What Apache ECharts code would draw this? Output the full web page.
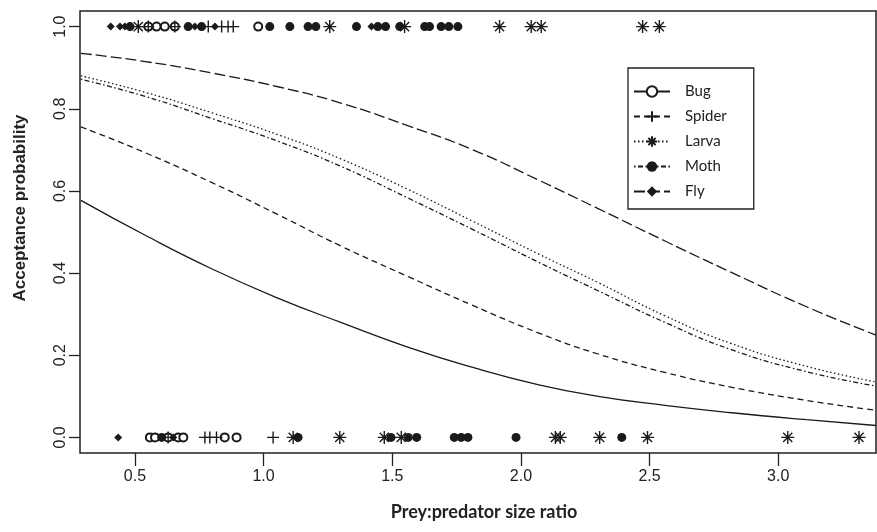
<!DOCTYPE html>
<html>
<head>
<meta charset="utf-8">
<script src="https://cdn.jsdelivr.net/npm/echarts@6/dist/echarts.min.js"></script>
<style>
html,body{margin:0;padding:0;background:#fff;}
#chart{width:877px;height:532px;}
</style>
</head>
<body>
<div id="chart"></div>
<script>
// ---- data ----
const categories = ['Bug', 'Spider', 'Larva', 'Moth', 'Fly'];
const xTicks = [0.5, 1.0, 1.5, 2.0, 2.5, 3.0];
const yTicks = [0.0, 0.2, 0.4, 0.6, 0.8, 1.0];

// fitted curves (x positions and acceptance probability)
const curveX =      [0.29,  0.54,  0.80,  1.06,  1.30,  1.56,  1.81,  2.07,  2.30,  2.56,  2.82,  3.11,  3.38];
const bugCurve =    [0.577, 0.492, 0.410, 0.338, 0.280, 0.220, 0.171, 0.128, 0.100, 0.078, 0.060, 0.043, 0.029];
const spiderCurve = [0.756, 0.693, 0.620, 0.541, 0.466, 0.392, 0.322, 0.254, 0.203, 0.158, 0.122, 0.090, 0.066];
const larvaCurve =  [0.880, 0.840, 0.790, 0.736, 0.678, 0.604, 0.527, 0.446, 0.377, 0.296, 0.228, 0.173, 0.135];
const mothCurve =   [0.872, 0.830, 0.776, 0.720, 0.660, 0.583, 0.507, 0.426, 0.357, 0.280, 0.213, 0.160, 0.125];
const flyCurve =    [0.935, 0.915, 0.887, 0.853, 0.814, 0.759, 0.701, 0.626, 0.557, 0.478, 0.401, 0.318, 0.249];

// observed prey: size ratios accepted (1) and rejected (0)
const bugAccepted = [0.552, 0.584, 0.616, 0.655, 0.979];
const bugRejected = [0.558, 0.578, 0.629, 0.668, 0.688, 0.849, 0.895];
const spiderAccepted = [0.552, 0.655, 0.785, 0.837, 0.862, 0.882];
const spiderRejected = [0.629, 0.772, 0.791, 0.817, 1.037];
const larvaAccepted = [0.513, 1.257, 1.548, 1.917, 2.040, 2.079, 2.473, 2.538];
const larvaRejected = [1.115, 1.296, 1.469, 1.535, 2.134, 2.153, 2.306, 2.492, 3.037, 3.314];
const mothAccepted = [0.481, 0.707, 0.759, 1.024, 1.102, 1.173, 1.203, 1.361, 1.444, 1.474, 1.529, 1.626, 1.645, 1.690, 1.720, 1.755];
const mothRejected = [0.604, 1.134, 1.495, 1.562, 1.595, 1.741, 1.768, 1.794, 1.981, 2.392];
const flyAccepted = [0.406, 0.442, 0.461, 0.733, 0.811, 1.419];
const flyRejected = [0.435, 0.649];

// ---- styling ----
const INK = '#1a1a1a';
const curves = { Bug: bugCurve, Spider: spiderCurve, Larva: larvaCurve, Moth: mothCurve, Fly: flyCurve };
const accepted = { Bug: bugAccepted, Spider: spiderAccepted, Larva: larvaAccepted, Moth: mothAccepted, Fly: flyAccepted };
const rejected = { Bug: bugRejected, Spider: spiderRejected, Larva: larvaRejected, Moth: mothRejected, Fly: flyRejected };
const dash = { Bug: 'solid', Spider: [6, 4], Larva: [1.5, 2.5], Moth: [1.5, 2.5, 5, 2.5], Fly: [11, 4] };
const sym = {
  Bug: 'emptyCircle',
  Spider: 'path://M0,5L10,5M5,0L5,10',
  Larva: 'path://M5,0L5,10M0,5L10,5M1.5,1.5L8.5,8.5M8.5,1.5L1.5,8.5',
  Moth: 'circle',
  Fly: 'diamond'
};
const symSize = { Bug: 8, Spider: 12, Larva: 13, Moth: 9, Fly: 8 };

const series = [];
categories.forEach(c => {
  series.push({
    name: c, type: 'line', smooth: 0.5, showSymbol: false,
    symbol: sym[c], symbolSize: symSize[c] * 0.8,
    data: curveX.map((x, i) => [x, curves[c][i]]),
    lineStyle: { color: INK, width: 1.3, type: dash[c] },
    itemStyle: { color: INK, borderColor: INK, borderWidth: (c === 'Spider' || c === 'Larva' || c === 'Bug') ? 1.3 : 0 },
    silent: true, z: 2
  });
});
categories.forEach(c => {
  const pts = accepted[c].map(x => [x, 1]).concat(rejected[c].map(x => [x, 0]));
  series.push({
    name: c, type: 'scatter', symbol: sym[c], symbolSize: symSize[c],
    data: pts,
    itemStyle: {
      color: INK,
      borderColor: INK,
      borderWidth: (c === 'Spider' || c === 'Larva') ? 1.4 : (c === 'Bug' ? 1.2 : 0),
      opacity: 1
    },
    silent: true, z: 3
  });
});

const chart = echarts.init(document.getElementById('chart'), null, { renderer: 'canvas' });
chart.setOption({
  animation: false,
  backgroundColor: '#fff',
  grid: { left: 80, top: 11, right: 1, bottom: 79, show: true, borderColor: '#222', borderWidth: 1.5, backgroundColor: 'transparent' },
  xAxis: {
    type: 'value', min: 0.2865, max: 3.38,
    axisLine: { show: false, onZero: false },
    splitLine: { show: false },
    axisTick: { show: true, length: 13, lineStyle: { color: '#222', width: 1.3 }, customValues: xTicks },
    axisLabel: { customValues: xTicks, formatter: v => v.toFixed(1), fontFamily: 'Liberation Sans', fontSize: 16, color: '#222', margin: 16 }
  },
  yAxis: {
    type: 'value', min: -0.038, max: 1.038,
    axisLine: { show: false, onZero: false },
    splitLine: { show: false },
    axisTick: { show: true, length: 11, lineStyle: { color: '#222', width: 1.3 }, customValues: yTicks },
    axisLabel: { customValues: yTicks, formatter: v => v.toFixed(1), rotate: 90, fontFamily: 'Liberation Sans', fontSize: 16, color: '#222', margin: 11 }
  },
  legend: {
    orient: 'vertical', left: 628, top: 68,
    data: categories,
    itemWidth: 36, itemHeight: 13, itemGap: 10,
    padding: [16, 27, 10, 5],
    borderColor: '#222', borderWidth: 1.3,
    textStyle: { fontFamily: 'Lato', fontSize: 15, color: '#222', padding: [0, 0, 0, 10] },
    selectedMode: false
  },
  graphic: [
    { type: 'text', x: 484, y: 512, style: { text: 'Prey:predator size ratio', font: 'bold 18px Lato', fill: '#222', align: 'center', verticalAlign: 'middle' } },
    { type: 'text', x: 20, y: 208, rotation: Math.PI / 2, style: { text: 'Acceptance probability', font: 'bold 17px "Liberation Sans"', fill: '#222', align: 'center', verticalAlign: 'middle' } }
  ],
  series: series
});
</script>
</body>
</html>
